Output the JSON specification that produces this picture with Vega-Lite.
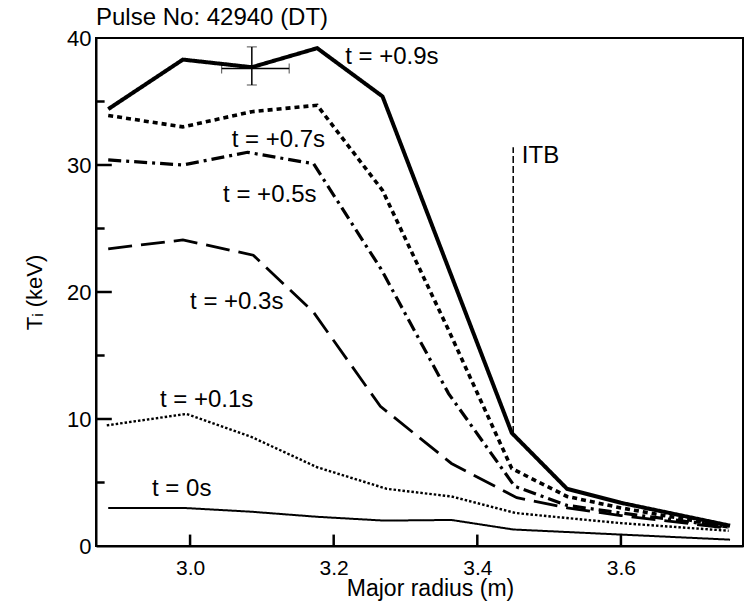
{
  "$schema": "https://vega.github.io/schema/vega-lite/v6.json",
  "width": 647,
  "height": 508,
  "autosize": {"type": "none"},
  "padding": {"left": 96, "top": 38, "right": 4, "bottom": 59},
  "background": "white",
  "config": {
    "font": "Liberation Sans",
    "view": {"stroke": "black", "strokeWidth": 2},
    "axis": {"domainColor": "black", "domainWidth": 2, "ticks": false, "labelColor": "black", "titleColor": "black", "grid": false, "labelFont": "Liberation Sans", "titleFont": "Liberation Sans", "labelFontWeight": "normal", "titleFontWeight": "normal"}
  },
  "title": {"text": "Pulse No: 42940 (DT)", "anchor": "start", "frame": "group", "fontSize": 24, "fontWeight": "normal", "font": "Liberation Sans", "color": "black", "offset": -3},
  "datasets": {
    "lines": [
      {"series": "t = +0.9s", "r": 2.886, "T": 34.4},
      {"series": "t = +0.9s", "r": 2.99, "T": 38.3},
      {"series": "t = +0.9s", "r": 3.086, "T": 37.7},
      {"series": "t = +0.9s", "r": 3.177, "T": 39.2},
      {"series": "t = +0.9s", "r": 3.268, "T": 35.4},
      {"series": "t = +0.9s", "r": 3.448, "T": 8.9},
      {"series": "t = +0.9s", "r": 3.525, "T": 4.5},
      {"series": "t = +0.9s", "r": 3.6, "T": 3.4},
      {"series": "t = +0.9s", "r": 3.752, "T": 1.6},
      {"series": "t = +0.7s", "r": 2.886, "T": 33.9},
      {"series": "t = +0.7s", "r": 2.99, "T": 33.0},
      {"series": "t = +0.7s", "r": 3.086, "T": 34.2},
      {"series": "t = +0.7s", "r": 3.177, "T": 34.7},
      {"series": "t = +0.7s", "r": 3.268, "T": 28.0},
      {"series": "t = +0.7s", "r": 3.36, "T": 17.0},
      {"series": "t = +0.7s", "r": 3.448, "T": 6.1},
      {"series": "t = +0.7s", "r": 3.525, "T": 3.9},
      {"series": "t = +0.7s", "r": 3.6, "T": 3.0},
      {"series": "t = +0.7s", "r": 3.75, "T": 1.5},
      {"series": "t = +0.5s", "r": 2.886, "T": 30.4},
      {"series": "t = +0.5s", "r": 2.99, "T": 30.0},
      {"series": "t = +0.5s", "r": 3.08, "T": 31.0},
      {"series": "t = +0.5s", "r": 3.172, "T": 30.1},
      {"series": "t = +0.5s", "r": 3.266, "T": 21.8},
      {"series": "t = +0.5s", "r": 3.36, "T": 12.0},
      {"series": "t = +0.5s", "r": 3.452, "T": 4.7},
      {"series": "t = +0.5s", "r": 3.525, "T": 3.2},
      {"series": "t = +0.5s", "r": 3.6, "T": 2.6},
      {"series": "t = +0.5s", "r": 3.75, "T": 1.5},
      {"series": "t = +0.3s", "r": 2.886, "T": 23.4},
      {"series": "t = +0.3s", "r": 2.99, "T": 24.1},
      {"series": "t = +0.3s", "r": 3.088, "T": 22.9},
      {"series": "t = +0.3s", "r": 3.172, "T": 18.4},
      {"series": "t = +0.3s", "r": 3.265, "T": 11.0},
      {"series": "t = +0.3s", "r": 3.364, "T": 6.5},
      {"series": "t = +0.3s", "r": 3.455, "T": 3.8},
      {"series": "t = +0.3s", "r": 3.525, "T": 3.0},
      {"series": "t = +0.3s", "r": 3.6, "T": 2.4},
      {"series": "t = +0.3s", "r": 3.75, "T": 1.4},
      {"series": "t = +0.1s", "r": 2.884, "T": 9.5},
      {"series": "t = +0.1s", "r": 2.995, "T": 10.4},
      {"series": "t = +0.1s", "r": 3.085, "T": 8.6},
      {"series": "t = +0.1s", "r": 3.177, "T": 6.2},
      {"series": "t = +0.1s", "r": 3.274, "T": 4.5},
      {"series": "t = +0.1s", "r": 3.364, "T": 3.9},
      {"series": "t = +0.1s", "r": 3.453, "T": 2.6},
      {"series": "t = +0.1s", "r": 3.525, "T": 2.2},
      {"series": "t = +0.1s", "r": 3.6, "T": 1.8},
      {"series": "t = +0.1s", "r": 3.75, "T": 1.2},
      {"series": "t = 0s", "r": 2.886, "T": 3.0},
      {"series": "t = 0s", "r": 2.99, "T": 3.0},
      {"series": "t = 0s", "r": 3.085, "T": 2.7},
      {"series": "t = 0s", "r": 3.177, "T": 2.3},
      {"series": "t = 0s", "r": 3.27, "T": 2.0},
      {"series": "t = 0s", "r": 3.364, "T": 2.05},
      {"series": "t = 0s", "r": 3.45, "T": 1.3},
      {"series": "t = 0s", "r": 3.525, "T": 1.1},
      {"series": "t = 0s", "r": 3.6, "T": 0.9},
      {"series": "t = 0s", "r": 3.752, "T": 0.5}
    ],
    "labels": [
      {"r": 3.216, "T": 38.5, "text": "t = +0.9s"},
      {"r": 3.058, "T": 32.0, "text": "t = +0.7s"},
      {"r": 3.046, "T": 27.6, "text": "t = +0.5s"},
      {"r": 3.0, "T": 19.2, "text": "t = +0.3s"},
      {"r": 2.958, "T": 11.5, "text": "t = +0.1s"},
      {"r": 2.947, "T": 4.5, "text": "t = 0s"},
      {"r": 3.462, "T": 30.7, "text": "ITB"}
    ],
    "err": [{"r": 3.086, "T": 37.6, "Tlo": 36.3, "Thi": 39.3, "rlo": 3.044, "rhi": 3.138}],
    "itb": [{"r": 3.45, "Tlo": 8.9, "Thi": 31.4}],
    "ticks": [
      {"kind": "major", "T0": 10, "T1": 10, "r0": 2.869, "r1": 2.891},
      {"kind": "major", "T0": 20, "T1": 20, "r0": 2.869, "r1": 2.891},
      {"kind": "major", "T0": 30, "T1": 30, "r0": 2.869, "r1": 2.891},
      {"kind": "minor", "T0": 5, "T1": 5, "r0": 2.869, "r1": 2.881},
      {"kind": "minor", "T0": 15, "T1": 15, "r0": 2.869, "r1": 2.881},
      {"kind": "minor", "T0": 25, "T1": 25, "r0": 2.869, "r1": 2.881},
      {"kind": "minor", "T0": 35, "T1": 35, "r0": 2.869, "r1": 2.881},
      {"kind": "x", "T0": 0, "T1": 0.9, "r0": 3.0, "r1": 3.0},
      {"kind": "x", "T0": 0, "T1": 0.9, "r0": 3.2, "r1": 3.2},
      {"kind": "x", "T0": 0, "T1": 0.9, "r0": 3.4, "r1": 3.4},
      {"kind": "x", "T0": 0, "T1": 0.9, "r0": 3.6, "r1": 3.6}
    ]
  },
  "layer": [
    {
      "data": {"name": "lines"},
      "mark": {"type": "line", "strokeCap": "butt", "strokeJoin": "miter", "color": "black"},
      "encoding": {
        "x": {"field": "r", "type": "quantitative", "title": "Major radius (m)", "scale": {"domain": [2.869, 3.77], "nice": false, "zero": false},
          "axis": {"title": "Major radius (m)", "values": [3.0, 3.2, 3.4, 3.6], "format": ".1f", "labelPadding": 11, "labelFontSize": 21, "titleFontSize": 23, "titleX": 334, "titleY": 42, "titleBaseline": "middle", "titleAlign": "center"}},
        "y": {"field": "T", "type": "quantitative", "title": "Tᵢ (keV)", "scale": {"domain": [0, 40], "nice": false},
          "axis": {"title": "Tᵢ (keV)", "values": [0, 10, 20, 30, 40], "labelPadding": 5, "labelFontSize": 22, "titleFontSize": 22, "titleAngle": -90, "titleX": -62, "titleY": 254, "titleBaseline": "middle", "titleAlign": "center"}},
        "detail": {"field": "series"},
        "strokeDash": {"field": "series", "type": "nominal", "legend": null,
          "scale": {"domain": ["t = +0.9s", "t = +0.7s", "t = +0.5s", "t = +0.3s", "t = +0.1s", "t = 0s"],
            "range": [[1, 0], [5, 4], [13, 5, 3, 5], [24, 9], [2.5, 2], [1, 0]]}},
        "strokeWidth": {"field": "series", "type": "nominal", "legend": null,
          "scale": {"domain": ["t = +0.9s", "t = +0.7s", "t = +0.5s", "t = +0.3s", "t = +0.1s", "t = 0s"],
            "range": [4, 2, 2.5, 2.5, 3.5, 2]}}
      }
    },
    {
      "data": {"name": "ticks"},
      "mark": {"type": "rule", "color": "black", "strokeWidth": 2.5},
      "encoding": {"x": {"field": "r0", "type": "quantitative", "title": "Major radius (m)"}, "x2": {"field": "r1"}, "y": {"field": "T0", "type": "quantitative", "title": "Tᵢ (keV)"}, "y2": {"field": "T1"}}
    },
    {
      "data": {"name": "itb"},
      "mark": {"type": "rule", "color": "black", "strokeWidth": 1.5, "strokeDash": [7, 3]},
      "encoding": {"x": {"field": "r", "type": "quantitative", "title": "Major radius (m)"}, "y": {"field": "Tlo", "type": "quantitative", "title": "Tᵢ (keV)"}, "y2": {"field": "Thi"}}
    },
    {
      "data": {"name": "err"},
      "mark": {"type": "errorbar", "ticks": {"size": 10, "color": "black", "strokeWidth": 1.5}, "rule": {"color": "black", "strokeWidth": 1.5}},
      "encoding": {"x": {"field": "r", "type": "quantitative", "title": "Major radius (m)"}, "y": {"field": "Tlo", "type": "quantitative", "title": "Tᵢ (keV)"}, "y2": {"field": "Thi"}}
    },
    {
      "data": {"name": "err"},
      "mark": {"type": "errorbar", "ticks": {"size": 10, "color": "black", "strokeWidth": 1.5}, "rule": {"color": "black", "strokeWidth": 1.5}},
      "encoding": {"y": {"field": "T", "type": "quantitative", "title": "Tᵢ (keV)"}, "x": {"field": "rlo", "type": "quantitative", "title": "Major radius (m)"}, "x2": {"field": "rhi"}}
    },
    {
      "data": {"name": "labels"},
      "mark": {"type": "text", "align": "left", "baseline": "middle", "fontSize": 24, "font": "Liberation Sans", "color": "black"},
      "encoding": {"x": {"field": "r", "type": "quantitative", "title": "Major radius (m)"}, "y": {"field": "T", "type": "quantitative", "title": "Tᵢ (keV)"}, "text": {"field": "text"}}
    }
  ]
}
